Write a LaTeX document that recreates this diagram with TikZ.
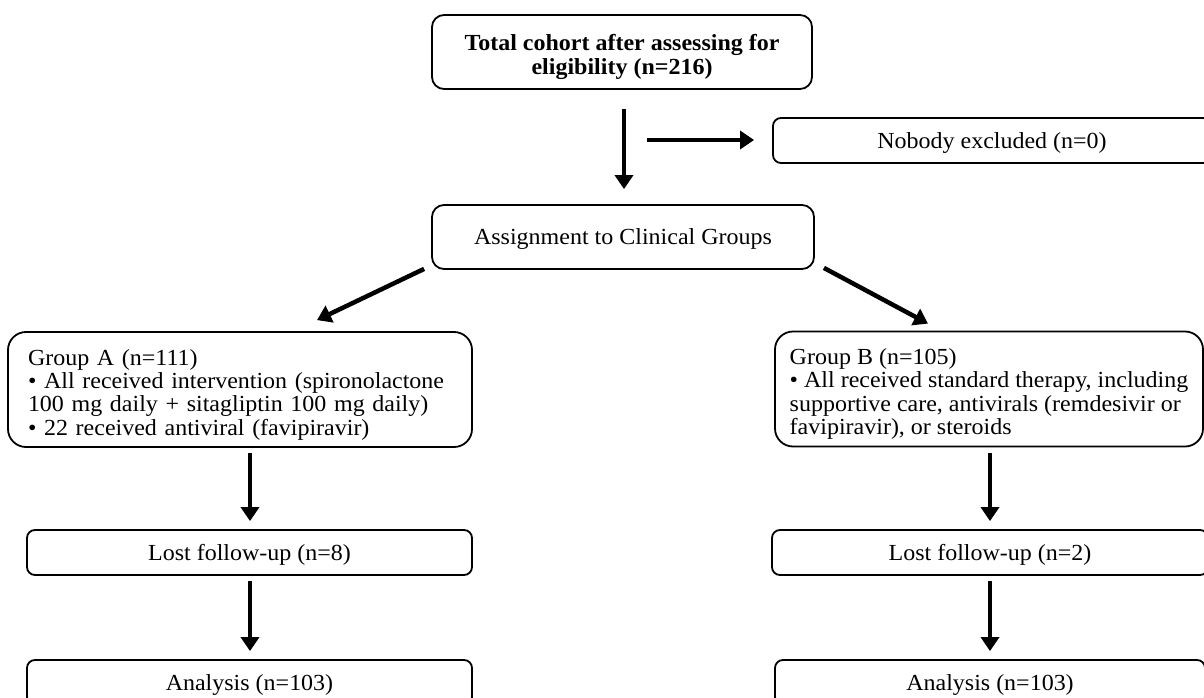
\documentclass[tikz,border=0pt]{standalone}
\usepackage{fontspec}
\setmainfont{Liberation Serif}[FakeStretch=1.043]
\usetikzlibrary{arrows.meta,calc}
\hyphenpenalty=10000
\exhyphenpenalty=10000
\newcommand{\firststrut}{\rule{0pt}{26pt}}
\begin{document}
\begin{tikzpicture}[x=1pt,y=-1pt,
  box/.style={draw, line width=1.8pt, rounded corners=12pt, align=center, inner sep=0pt,
    font=\fontsize{23}{23.3}\selectfont},
  onebox/.style={box, text depth=0pt},
  thinbox/.style={onebox, rounded corners=8pt, minimum height=45pt},
  grpbox/.style={box, rounded corners=18pt, align=left, minimum height=115pt},
  arr/.style={line width=4.5pt, -{Triangle[length=14pt,width=18pt]}}]
\useasboundingbox (0,0) rectangle (1204,698);

\node[box, minimum width=380pt, minimum height=74pt] (top) at (622,52)
  {\firststrut\textbf{Total cohort after assessing for}\\\textbf{eligibility (n=216)}};
\node[thinbox, minimum width=438pt] (nobody) at (992,140.5) {Nobody excluded (n=0)};
\node[onebox, minimum width=382pt, minimum height=64pt] (assign) at (623,237) {Assignment to Clinical Groups};

\node[grpbox, text width=424pt, inner xsep=20pt] (gA) at (240,389.5)
  {\firststrut Group A (n=111)\\
   • All received intervention (spironolactone\\
   100 mg daily + sitagliptin 100 mg daily)\\
   • 22 received antiviral (favipiravir)};
\node[grpbox, minimum width=428pt] (gB) at (989,389)
  {\firststrut Group B (n=105)\\
   • All received standard therapy, including\\
   supportive care, antivirals (remdesivir or\\
   favipiravir), or steroids};

\node[thinbox, minimum width=445pt] (lostA) at (249.5,552.5) {Lost follow-up (n=8)};
\node[thinbox, minimum width=436pt] (lostB) at (990,552.5) {Lost follow-up (n=2)};
\node[thinbox, minimum width=445pt] (anaA) at (249.5,682.5) {Analysis (n=103)};
\node[thinbox, minimum width=430pt] (anaB) at (990,682.5) {Analysis (n=103)};

\coordinate (split) at (624,140);

\draw[arr, shorten <=19pt, shorten >=15pt] ([xshift=2pt]top.south) -- ([xshift=1pt]assign.north);
\draw[arr, shorten <=23pt, shorten >=18pt] (split) -- (nobody.west |- split);
\draw[arr] ($(assign.south west)+(-7,-1)$) -- ($(gA.north)+(77,-11)$);
\draw[arr] ($(assign.south east)+(9,-2)$) -- ($(gB.north)+(-61,-7)$);
\draw[arr, shorten <=5pt, shorten >=8pt] ([xshift=10pt]gA.south) -- ([xshift=0.5pt]lostA.north);
\draw[arr, shorten <=5pt, shorten >=8pt] ([xshift=0.5pt]lostA.south) -- ([xshift=0.5pt]anaA.north);
\draw[arr, shorten <=6pt, shorten >=8pt] ([xshift=1pt]gB.south) -- (lostB.north);
\draw[arr, shorten <=5pt, shorten >=8pt] (lostB.south) -- (anaB.north);
\end{tikzpicture}
\end{document}
